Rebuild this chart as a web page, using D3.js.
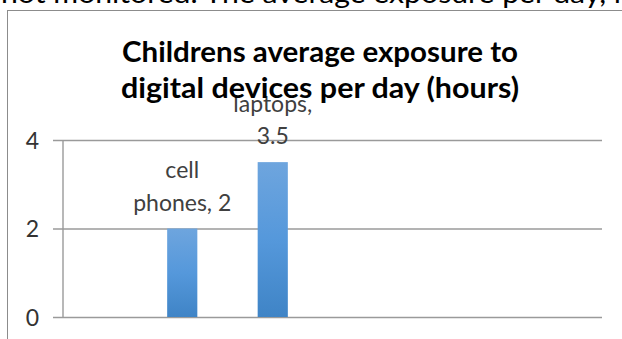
<!DOCTYPE html>
<html>
<head>
<meta charset="utf-8">
<script src="https://cdn.jsdelivr.net/npm/d3@7"></script>
<style>
    body { margin: 0; background: #fff; }
    svg { display: block; font-family: Lato, "Open Sans", sans-serif; }
</style>
</head>
<body>
<div id="chart-area"></div>
<script>
const categories = ["cell phones", "laptops"];
const hours = [2, 3.5];
const yTicks = [0, 2, 4];
const titleLines = ["Childrens average exposure to", "digital devices per day (hours)"];
const pageText = "not monitored. The average exposure per day, i";

const chartSize = { width: 622, height: 339 };
const plot = { left: 63, right: 602, top: 140, bottom: 317 };

const main = () => {
    const svg = d3
        .select("#chart-area")
        .append("svg")
        .attr("width", chartSize.width)
        .attr("height", chartSize.height);

    // line of the surrounding document, cut off by the crop
    svg.append("text")
        .attr("x", 1)
        .attr("y", 2.5)
        .attr("font-size", 27)
        .attr("fill", "#000")
        .attr("textLength", 620)
        .attr("lengthAdjust", "spacingAndGlyphs")
        .text(pageText);

    svg.append("rect")
        .attr("x", 7.5)
        .attr("y", 10.5)
        .attr("width", 640)
        .attr("height", 360)
        .attr("fill", "#fff")
        .attr("stroke", "#8c8c8c")
        .attr("stroke-width", 1);

    const defs = svg.append("defs");
    const grad = defs.append("linearGradient")
        .attr("id", "barFill")
        .attr("x1", 0).attr("y1", 0)
        .attr("x2", 0).attr("y2", 1);
    grad.append("stop").attr("offset", "0%").attr("stop-color", "#6ea5de");
    grad.append("stop").attr("offset", "50%").attr("stop-color", "#5598db");
    grad.append("stop").attr("offset", "100%").attr("stop-color", "#3f84c6");

    const y = d3.scaleLinear().domain([0, 4]).range([plot.bottom, plot.top]);
    const x = d3
        .scaleBand()
        .domain(categories)
        .range([137, 318])
        .paddingInner(2 / 3)
        .paddingOuter(1 / 3);

    const yAxis = d3
        .axisLeft(y)
        .tickValues(yTicks)
        .tickSize(-(plot.right - plot.left))
        .tickPadding(24)
        .tickFormat(d3.format("d"));
    const yG = svg.append("g")
        .attr("class", "y-axis")
        .attr("transform", `translate(${plot.left},0)`)
        .call(yAxis);
    yG.select(".domain").remove();
    yG.selectAll(".tick line")
        .attr("x1", -10)
        .attr("stroke", "#9a9a9a")
        .attr("stroke-width", 1.4);
    yG.selectAll(".tick text")
        .attr("font-size", 23)
        .attr("font-family", "Lato, sans-serif")
        .attr("fill", "#333")
        .attr("dy", "0.36em");

    svg.append("line")
        .attr("x1", plot.left).attr("x2", plot.left)
        .attr("y1", plot.top).attr("y2", plot.bottom)
        .attr("stroke", "#9a9a9a")
        .attr("stroke-width", 1.4);

    const data = categories.map((c, i) => ({ name: c, value: hours[i] }));

    svg.append("g")
        .selectAll("rect")
        .data(data)
        .join("rect")
        .attr("x", d => x(d.name))
        .attr("y", d => y(d.value))
        .attr("width", x.bandwidth())
        .attr("height", d => y(0) - y(d.value))
        .attr("fill", "url(#barFill)");

    // data labels: "name, value" wrapped over two lines
    const labelLines = d => {
        const words = `${d.name}, ${d.value}`.split(" ");
        return [words[0], words.slice(1).join(" ")];
    };
    const labels = svg.append("g")
        .selectAll("text")
        .data(data)
        .join("text")
        .attr("text-anchor", "middle")
        .attr("font-size", 23)
        .attr("fill", "#404040");
    labels.each(function(d) {
        const cx = x(d.name) + x.bandwidth() / 2;
        const lines = labelLines(d);
        d3.select(this)
            .selectAll("tspan")
            .data(lines)
            .join("tspan")
            .attr("x", cx)
            .attr("y", (l, i) => y(d.value) - 18 - (lines.length - 1 - i) * 32.5)
            .text(l => l);
    });

    const title = svg.append("g")
        .attr("font-weight", "bold")
        .attr("font-size", 28)
        .attr("fill", "#000")
        .attr("text-anchor", "middle");
    title.selectAll("text")
        .data(titleLines)
        .join("text")
        .attr("x", 320)
        .attr("y", (d, i) => 62 + i * 36)
        .attr("textLength", (d, i) => (i === 0 ? 396 : 398))
        .attr("lengthAdjust", "spacingAndGlyphs")
        .text(d => d);
};
window.onload = main;
</script>
</body>
</html>
